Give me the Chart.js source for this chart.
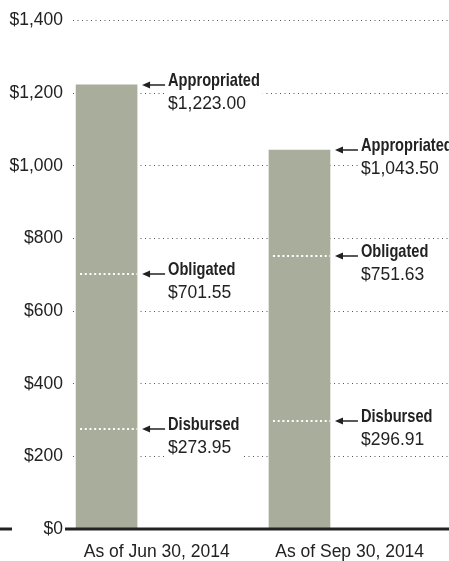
<!DOCTYPE html>
<html>
<head>
<meta charset="utf-8">
<script src="https://cdn.jsdelivr.net/npm/chart.js@4"></script>
<style>
    body { margin: 0; background: #fff; }
    #wrap { width: 449px; height: 561px; }
</style>
</head>
<body>
<div id="wrap"><canvas id="fundsChart"></canvas></div>
<script>
const categories = ["As of Jun 30, 2014", "As of Sep 30, 2014"];
const appropriated = [1223.00, 1043.50];
const obligated = [701.55, 751.63];
const disbursed = [273.95, 296.91];
const seriesNames = ["Appropriated", "Obligated", "Disbursed"];
const yTicks = [0, 200, 400, 600, 800, 1000, 1200, 1400];

const INK = "#222";
const BAR = "#a9ad9c";
const tickFont = { family: "Liberation Sans, Arial, sans-serif", size: 17.5 };
const LABEL_FONT = "bold 18.5px 'Liberation Sans', Arial, sans-serif";
const VALUE_FONT = "17.5px 'Liberation Sans', Arial, sans-serif";
const NARROW = 0.79; // no condensed face installed, so squeeze the bold labels

function money(v, dec) {
    return "$" + v.toLocaleString("en-US", { minimumFractionDigits: dec, maximumFractionDigits: dec });
}

// arrows, callout text and the white dotted marks inside the bars
const callouts = {
    id: "callouts",
    afterDatasetsDraw(chart) {
        const ctx = chart.ctx;
        const y = chart.scales.y;
        const area = chart.chartArea;
        const bars = chart.getDatasetMeta(0).data;

        ctx.save();
        bars.forEach((bar, i) => {
            const left = bar.x - bar.width / 2;
            const right = bar.x + bar.width / 2;

            // dotted white marks for obligated / disbursed
            ctx.strokeStyle = "#fff";
            ctx.lineWidth = 2;
            ctx.setLineDash([2, 2.7]);
            [obligated[i], disbursed[i]].forEach(v => {
                const py = Math.round(y.getPixelForValue(v));
                ctx.beginPath();
                ctx.moveTo(left + 4, py);
                ctx.lineTo(right, py);
                ctx.stroke();
            });
            ctx.setLineDash([]);

            const vals = [appropriated[i], obligated[i], disbursed[i]];
            vals.forEach((v, k) => {
                const py = Math.round(y.getPixelForValue(v));
                const tx = right + 31;
                const label = seriesNames[k];
                const text = money(v, 2);

                ctx.font = LABEL_FONT;
                const w1 = ctx.measureText(label).width * NARROW;
                ctx.font = VALUE_FONT;
                const w2 = ctx.measureText(text).width;

                // white box hides the grid behind the text
                ctx.fillStyle = "#fff";
                ctx.fillRect(tx - 3, py - 15, Math.max(w1, w2) + 6, 44);

                // arrow
                ctx.strokeStyle = INK;
                ctx.fillStyle = INK;
                ctx.lineWidth = 1.5;
                ctx.beginPath();
                ctx.moveTo(right + 10, py);
                ctx.lineTo(right + 28, py);
                ctx.stroke();
                ctx.beginPath();
                ctx.moveTo(right + 5, py);
                ctx.lineTo(right + 13, py - 3.5);
                ctx.lineTo(right + 13, py + 3.5);
                ctx.closePath();
                ctx.fill();

                ctx.textBaseline = "alphabetic";
                ctx.textAlign = "left";
                ctx.save();
                ctx.translate(tx, py + 1);
                ctx.scale(NARROW, 1);
                ctx.font = LABEL_FONT;
                ctx.fillText(label, 0, 0);
                ctx.restore();
                ctx.fillStyle = INK;
                ctx.font = VALUE_FONT;
                ctx.fillText(text, tx, py + 24);
            });
        });

        // baseline
        const y0 = Math.round(y.getPixelForValue(0));
        ctx.strokeStyle = INK;
        ctx.lineWidth = 3;
        ctx.beginPath();
        ctx.moveTo(0, y0);
        ctx.lineTo(12, y0);
        ctx.moveTo(area.left - 8, y0);
        ctx.lineTo(area.right, y0);
        ctx.stroke();
        ctx.restore();
    }
};

new Chart(document.getElementById("fundsChart"), {
    type: "bar",
    data: {
        datasets: [{
            label: "Appropriated",
            data: appropriated.map((v, i) => ({ x: i, y: v })),
            backgroundColor: BAR,
            borderWidth: 0,
            barThickness: 61
        }]
    },
    options: {
        responsive: true,
        maintainAspectRatio: false,
        animation: false,
        layout: { padding: { top: 19, left: 0, right: 0, bottom: 0 } },
        plugins: {
            legend: { display: false },
            tooltip: { enabled: false }
        },
        scales: {
            x: {
                type: "linear",
                offset: false,
                min: -0.174,
                max: 1.775,
                grid: { display: false, offset: false },
                border: { display: false },
                afterBuildTicks: scale => {
                    scale.ticks = categories.map((c, i) => ({ value: i + 0.26 }));
                },
                afterFit: scale => { scale.height = 32; },
                ticks: {
                    autoSkip: false,
                    maxRotation: 0,
                    padding: 5,
                    color: INK,
                    font: tickFont,
                    callback: (v, i) => categories[i]
                }
            },
            y: {
                min: 0,
                max: 1400,
                afterBuildTicks: scale => {
                    scale.ticks = yTicks.map(v => ({ value: v }));
                },
                afterFit: scale => { scale.width = 73; },
                grid: { color: "#555", lineWidth: 1, drawTicks: false },
                border: { display: false, dash: [1, 3.5] },
                ticks: {
                    padding: 10,
                    color: INK,
                    font: tickFont,
                    callback: v => money(v, 0)
                }
            }
        }
    },
    plugins: [callouts]
});
</script>
</body>
</html>
